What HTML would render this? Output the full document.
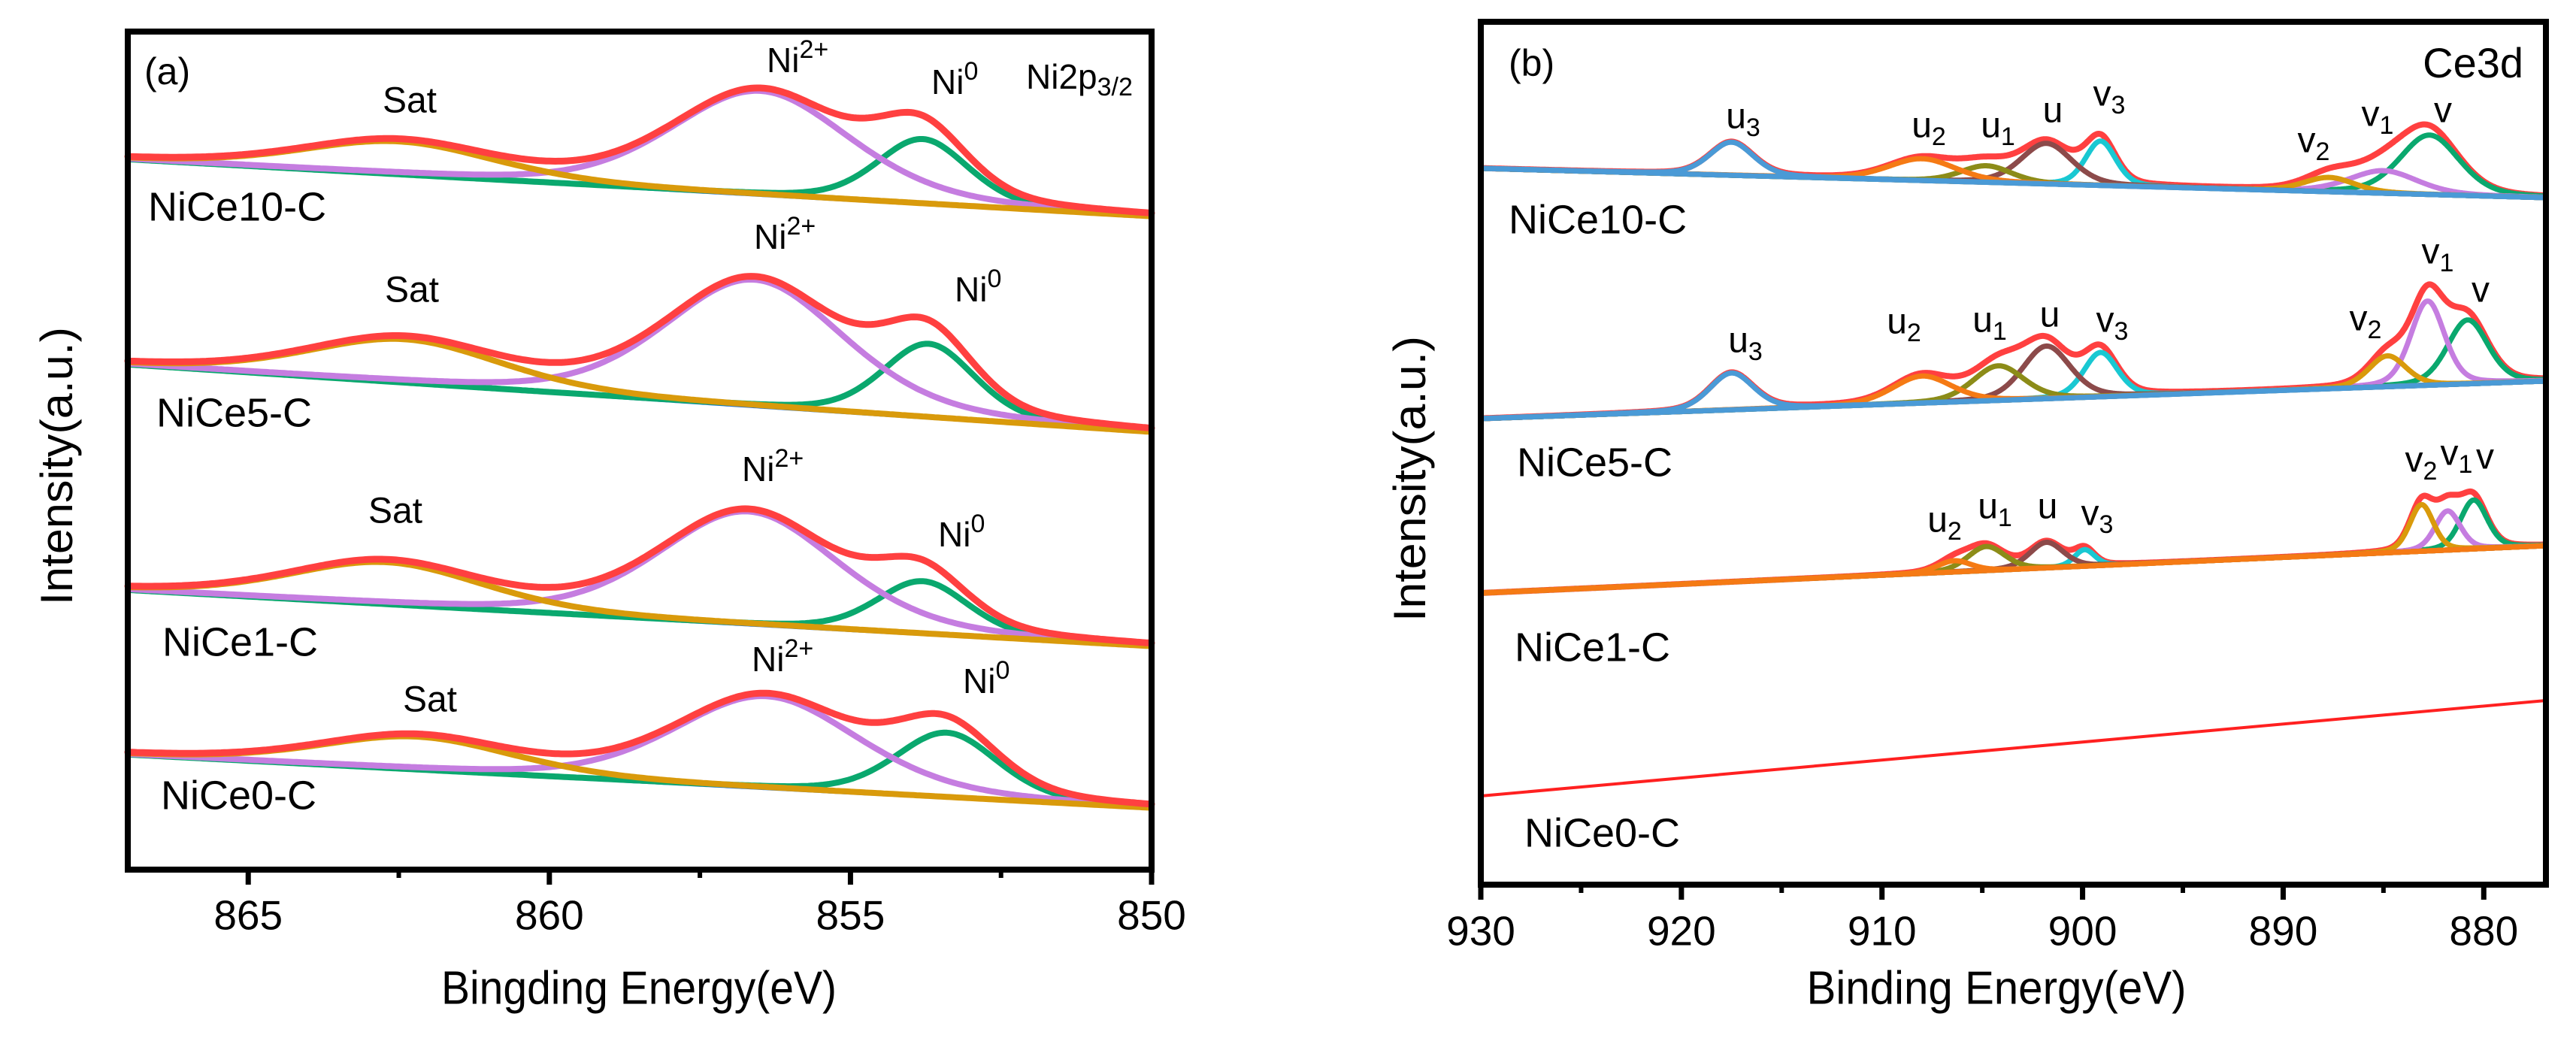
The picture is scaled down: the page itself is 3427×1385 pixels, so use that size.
<!DOCTYPE html>
<html><head><meta charset="utf-8"><style>
html,body{margin:0;padding:0;background:#fff;}
svg{display:block;}
text{font-family:"Liberation Sans",sans-serif;fill:#000;}
</style></head><body>
<svg id="fig" width="3427" height="1385" viewBox="0 0 3427 1385" xmlns="http://www.w3.org/2000/svg">
<rect width="3427" height="1385" fill="#fff"/>
<g id="panelA"></g>
<g id="panelB"></g>
</svg>
<script>
// ---------- Panel A data (Ni2p3/2) ----------
const aSamples=['NiCe10-C','NiCe5-C','NiCe1-C','NiCe0-C'];
const aBgLeft=[945,672,372,153];
const aBgRight=[869,582,297,82];
const aSatPos=[862.5,862.4,862.7,862.2];
const aSatH=[44,58,56,44];
const aNi2Pos=[856.5,856.6,856.7,856.4];
const aNi2H=[138,168,150,122];
const aNi0Pos=[853.8,853.7,853.8,853.4];
const aNi0H=[86,98,70,86];
const aSatW=[3.8,3.8,3.8,3.8];
const aNi2W=[3.5,3.5,3.5,3.6];
const aNi0W=[1.8,1.8,1.8,2.0];
const aTicks=[865,860,855,850];
const aMinor=[862.5,857.5,852.5];
// ---------- Panel B data (Ce3d) ----------
const bSamples=['NiCe10-C','NiCe5-C','NiCe1-C','NiCe0-C'];
const bPeakNames=['u3','u2','u1','u','v3','v2','v1','v'];
const bBgLeft=[953,620,388,118];
const bBgRight=[914,670,451,245];
const bPos10=[917.5,908.0,904.8,901.8,899.1,887.7,885.0,882.7];
const bH10=[44,29,22,54,59,19,30,79];
const bW10=[2.6,4,3,3,1.8,3,4,3.5];
const bPos5=[917.5,908.0,904.2,901.8,899.1,884.8,882.8,880.8];
const bH5=[49,36,46,70,59,41,112,85];
const bW5=[2.6,3.5,3,2.8,2,2.2,2,2.4];
const bPos1=[917.5,906.4,904.8,901.8,899.9,883.1,881.8,880.5];
const bH1=[0,15,32,34,22,62,52,65];
const bW1=[2,2,2.2,2,1.2,1.4,1.5,1.6];
const bTicks=[930,920,910,900,890,880];
const bMinor=[925,915,905,895,885];

const NS='http://www.w3.org/2000/svg';
function mk(parent,tag,attrs){const e=document.createElementNS(NS,tag);for(const k in attrs)e.setAttribute(k,attrs[k]);parent.appendChild(e);return e;}
function pv(x,c,h,w){if(!h)return 0;const d=(x-c)/w;return h*(0.3/(1+4*d*d)+0.7*Math.exp(-4*Math.LN2*d*d));}

const A={l:170,r:1532,t:42,b:1157,x0:867,x1:850};
const axA=v=>A.l+(A.x0-v)/(A.x0-A.x1)*(A.r-A.l);
const ayA=v=>A.b-v;
const B={l:1970,r:3387,t:29,b:1177,x0:930,x1:876.9};
const axB=v=>B.l+(B.x0-v)/(B.x0-B.x1)*(B.r-B.l);
const ayB=v=>B.b-v;

function path(g,xs,fn,ax,ay,color,w,name){
  let d='';xs.forEach((x,i)=>{d+=(i?'L':'M')+ax(x).toFixed(1)+','+ay(fn(x)).toFixed(1);});
  const p=mk(g,'path',{d:d,fill:'none',stroke:color,'stroke-width':w,'stroke-linejoin':'round','stroke-linecap':'round'});
  
  
  return p;
}
function txt(g,x,y,s,size,name,anchor,extra){
  const t=mk(g,'text',{x:x,y:y,'font-size':size,'text-anchor':anchor||'start','dominant-baseline':'middle'});
  t.innerHTML=s;
  
  
  if(extra)for(const k in extra)t.setAttribute(k,extra[k]);
  return t;
}

const gA=document.getElementById('panelA');
const xsA=[];for(let x=A.x0;x>=A.x1-0.001;x-=0.05)xsA.push(x);
aSamples.forEach((s,i)=>{
  const g=mk(gA,'g',{});
  
  
  const bg=x=>aBgLeft[i]+(aBgRight[i]-aBgLeft[i])*(A.x0-x)/(A.x0-A.x1);
  const sat=x=>pv(x,aSatPos[i],aSatH[i],aSatW[i]);
  const ni2=x=>pv(x,aNi2Pos[i],aNi2H[i],aNi2W[i]);
  const ni0=x=>pv(x,aNi0Pos[i],aNi0H[i],aNi0W[i]);
  path(g,xsA,bg,axA,ayA,'#1f6fd0',6,'background-'+s.toLowerCase());
  path(g,xsA,x=>bg(x)+ni0(x),axA,ayA,'#0aa86e',8,'ni0-fit-'+s.toLowerCase());
  path(g,xsA,x=>bg(x)+ni2(x),axA,ayA,'#c57de0',8,'ni2-fit-'+s.toLowerCase());
  path(g,xsA,x=>bg(x)+sat(x),axA,ayA,'#d99a0b',8,'sat-fit-'+s.toLowerCase());
  path(g,xsA,x=>bg(x)+sat(x)+ni2(x)+ni0(x),axA,ayA,'#ff4040',9,'envelope-'+s.toLowerCase());
});
const fA=mk(gA,'rect',{x:A.l,y:A.t,width:A.r-A.l,height:A.b-A.t,fill:'none',stroke:'#000','stroke-width':8});


aTicks.forEach(v=>{
  const t=mk(gA,'line',{x1:axA(v),x2:axA(v),y1:A.b,y2:A.b+20,stroke:'#000','stroke-width':7});
  
  
  txt(gA,axA(v),1222,String(v),55,'x-tick-label-'+v,'middle');
});
aMinor.forEach(v=>{
  const t=mk(gA,'line',{x1:axA(v),x2:axA(v),y1:A.b,y2:A.b+11,stroke:'#000','stroke-width':6});
  
  
});
txt(gA,850,1319,'Bingding Energy(eV)',62,'x-axis-title-a','middle',{textLength:526,lengthAdjust:'spacingAndGlyphs'});
txt(gA,0,0,'Intensity(a.u.)',60,'y-axis-title-a','middle',{transform:'translate(80,620) rotate(-90)',textLength:370,lengthAdjust:'spacingAndGlyphs'});
txt(gA,192,99,'(a)',50,'panel-label-a');
txt(gA,1365,106,'Ni2p<tspan font-size="34" dy="12">3/2</tspan>',46,'region-label-ni2p');
const aLab=[
 {s:[545,137],n2:[1020,84],n0:[1239,113],l:[197,279]},
 {s:[548,389],n2:[1003,319],n0:[1270,389],l:[208,553]},
 {s:[526,683],n2:[987,628],n0:[1248,715],l:[216,858]},
 {s:[572,934],n2:[1000,881],n0:[1281,910],l:[214,1062]}];
aLab.forEach((p,i)=>{
  txt(gA,p.s[0],p.s[1],'Sat',48,'sat-label-'+aSamples[i].toLowerCase(),'middle');
  txt(gA,p.n2[0],p.n2[1],'Ni<tspan font-size="34" dy="-16">2+</tspan>',46,'ni2-label-'+aSamples[i].toLowerCase());
  txt(gA,p.n0[0],p.n0[1],'Ni<tspan font-size="34" dy="-16">0</tspan>',46,'ni0-label-'+aSamples[i].toLowerCase());
  txt(gA,p.l[0],p.l[1],aSamples[i],54,'sample-label-a-'+aSamples[i].toLowerCase());
});

const gB=document.getElementById('panelB');
const xsB=[];for(let x=B.x0;x>=B.x1-0.001;x-=0.05)xsB.push(x);
const bCol=['#4a9ad6','#f57a14','#8c8c18','#8c4a4a','#19c8d2','#d99a0b','#c57de0','#0aa86e'];
const bSets=[[bPos10,bH10,bW10],[bPos5,bH5,bW5],[bPos1,bH1,bW1]];
bSets.forEach((set,i)=>{
  const s=bSamples[i];
  const g=mk(gB,'g',{});
  
  
  const bg=x=>bBgLeft[i]+(bBgRight[i]-bBgLeft[i])*(B.x0-x)/(B.x0-B.x1);
  const [pos,h,w]=set;
  path(g,xsB,x=>{let v=bg(x);for(let k=0;k<pos.length;k++)v+=pv(x,pos[k],h[k],w[k]);return v;},axB,ayB,'#ff4040',8,'envelope-ce3d-'+s.toLowerCase());
  for(let k=pos.length-1;k>=0;k--){
    if(!h[k])continue;
    path(g,xsB,x=>bg(x)+pv(x,pos[k],h[k],w[k]),axB,ayB,bCol[k],7,'peak-'+bPeakNames[k]+'-'+s.toLowerCase());
  }
  path(g,xsB,bg,axB,ayB,i<2?'#4a9ad6':'#f57a14',7,'background-ce3d-'+s.toLowerCase());
});
path(gB,[B.x0,B.x1],x=>bBgLeft[3]+(bBgRight[3]-bBgLeft[3])*(B.x0-x)/(B.x0-B.x1),axB,ayB,'#ff2020',4,'line-ce3d-nice0-c');
const fB=mk(gB,'rect',{x:B.l,y:B.t,width:B.r-B.l,height:B.b-B.t,fill:'none',stroke:'#000','stroke-width':8});


bTicks.forEach(v=>{
  const t=mk(gB,'line',{x1:axB(v),x2:axB(v),y1:B.b,y2:B.b+20,stroke:'#000','stroke-width':7});
  
  
  txt(gB,axB(v),1243,String(v),55,'x-tick-label-'+v,'middle');
});
bMinor.forEach(v=>{
  const t=mk(gB,'line',{x1:axB(v),x2:axB(v),y1:B.b,y2:B.b+11,stroke:'#000','stroke-width':6});
  
  
});
txt(gB,2656,1319,'Binding Energy(eV)',62,'x-axis-title-b','middle',{textLength:505,lengthAdjust:'spacingAndGlyphs'});
txt(gB,0,0,'Intensity(a.u.)',60,'y-axis-title-b','middle',{transform:'translate(1880,637) rotate(-90)',textLength:380,lengthAdjust:'spacingAndGlyphs'});
txt(gB,2007,88,'(b)',50,'panel-label-b');
txt(gB,3357,88,'Ce3d',56,'region-label-ce3d','end');
const sub=(b,n)=>b+'<tspan font-size="34" dy="14">'+n+'</tspan>';
const bLab=[
 [[2319,158,sub('u',3)],[2566,170,sub('u',2)],[2658,170,sub('u',1)],[2731,150,'u'],[2806,128,sub('v',3)],[3078,190,sub('v',2)],[3163,155,sub('v',1)],[3250,150,'v']],
 [[2322,456,sub('u',3)],[2533,431,sub('u',2)],[2647,429,sub('u',1)],[2727,422,'u'],[2810,429,sub('v',3)],[3147,427,sub('v',2)],[3243,338,sub('v',1)],[3300,389,'v']],
 [[2587,695,sub('u',2)],[2654,677,sub('u',1)],[2724,677,'u'],[2790,686,sub('v',3)],[3221,615,sub('v',2)],[3268,606,sub('v',1)],[3306,611,'v']]];
bLab.forEach((arr,i)=>arr.forEach(p=>txt(gB,p[0],p[1],p[2],48,'peak-label-'+bSamples[i].toLowerCase(),'middle')));
const bSL=[[2007,296],[2018,619],[2015,865],[2028,1112]];
bSL.forEach((p,i)=>txt(gB,p[0],p[1],bSamples[i],54,'sample-label-b-'+bSamples[i].toLowerCase()));
</script>
</body></html>
